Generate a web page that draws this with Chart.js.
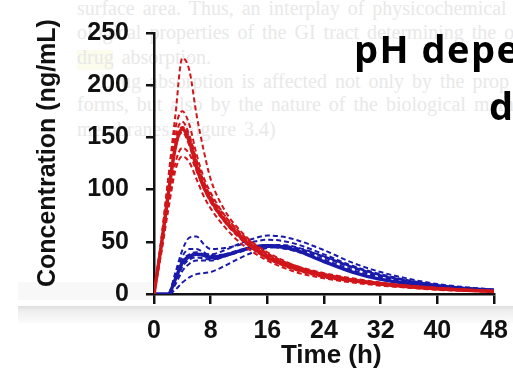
<!DOCTYPE html>
<html>
<head>
<meta charset="utf-8">
<script src="https://cdn.jsdelivr.net/npm/chart.js@4/dist/chart.umd.min.js"></script>
<style>
  html, body { margin: 0; padding: 0; background: #fff; }
  #wrap { position: relative; width: 513px; height: 378px; overflow: hidden; background: #fff; }
  .bg { position: absolute; left: 77px; font-family: "Liberation Serif", serif; font-size: 20px; color: #e9e9e9; white-space: nowrap; word-spacing: 3px; }
  .band { position: absolute; }
  .head { position: absolute; font-family: "Open Sans", sans-serif; font-weight: bold; font-size: 38px; letter-spacing: 1.5px; color: #000; white-space: nowrap; }
  canvas { position: absolute; left: 0; top: 0; }
</style>
</head>
<body>
<div id="wrap">
  <div class="band" style="left:18px;top:282px;width:135px;height:18px;background:#f8f8f8"></div>
  <div class="band" style="left:18px;top:306px;right:0;height:17px;background:linear-gradient(#dedede,#efefef 30%,#fbfbfb)"></div>
  <div class="band" style="left:77px;top:50px;width:36px;height:20px;background:#fcfcec"></div>
  <div class="bg" style="top:-3px">surface area. Thus, an interplay of physicochemical p</div>
  <div class="bg" style="top:21px">ological properties of the GI tract determining the outc</div>
  <div class="bg" style="top:46px">drug absorption.</div>
  <div class="bg" style="top:70px;left:100px">Drug absorption is affected not only by the prop</div>
  <div class="bg" style="top:93px">forms, but also by the nature of the biological memb</div>
  <div class="bg" style="top:118px">membranes (Figure 3.4)</div>
  <canvas id="chart" width="513" height="378"></canvas>
  <div class="head" style="left:354px;top:22px">pH dependent</div>
  <div class="head" style="left:489px;top:79px">drug</div>
</div>
<script>
// time points (h)
const hours = [0,1,2,3,4,5,6,7,8,10,12,14,16,18,20,24,28,32,36,40,44,48]

// red profiles (ng/mL)
const redMean = [0,45,95,140,158,146,122,103,90,70,56,44,35,29,24,17.5,13,9.5,7,5,3.5,2.5]
const red1 = [0,50,110,170,226,214,172,138,110,80,62,49,40,33,27,19,14,10,7,5,3.5,2.5]
const red2 = [0,50,108,158,175,162,134,112,97,75,59,47,38,31,26,19,14,10.5,7.5,5.5,4,2.8]
const red3 = [0,48,100,150,165,152,128,108,93,72,57,45,36,29,24,17,12.5,9.5,7,5,3.5,2.5]
const red4 = [0,45,95,140,155,142,120,102,88,69,54,43,34,28,23,16,12,9,6.5,4.5,3.2,2.2]
const red5 = [0,40,85,125,140,134,118,102,90,71,57,46,37,31,26,19,14,10.5,8,6,4.2,3]
const red6 = [0,38,80,118,132,126,110,94,82,64,50,40,32,26,21,15,11,8,6,4,3,2]
const red7 = [0,46,98,145,160,150,128,108,94,75,60,48,39,32,27,20,15,11,8,6,4.3,3]

// blue profiles (ng/mL)
const blueMean = [0,0,0,14,30,36,38,37,35,37,41,45,46,45,42,31,21,14,10,7,5,3.5]
const blue1 = [0,0,0,20,42,54,55,48,43,44,47,50,52,51,48,38,27,19,13,8.5,5.5,3.5]
const blue2 = [0,0,0,12,26,34,38,38,38,42,48,53,56,55,52,42,30,21,14.5,9.5,6.5,4.2]
const blue3 = [0,0,0,4,11,16,19,20,21,27,34,40,44,45,44,36,26,18,12.5,8.5,5.5,3.8]
const blue4 = [0,0,0,16,32,38,40,38,36,38,42,45,47,46,43,33,23,16,11,7.5,5,3.2]
const blue5 = [0,0,0,9,22,29,32,32,32,36,40,44,46,46,44,35,25,17,12,8,5.5,3.8]
const blue6 = [0,0,0,18,36,43,43,40,37,38,41,44,45,44,41,31,21,14.5,10,6.8,4.6,3]
const blue7 = [0,0,0,13,27,33,35,34,33,36,41,45,47,47,45,36,26,18,12.5,8.5,5.8,3.8]

const xTicks = [0,8,16,24,32,40,48]
const yTicks = [0,50,100,150,200,250]

const red = 'rgb(208,22,26)'
const blue = 'rgb(26,26,170)'

function pts(arr){ return hours.map((h,i)=>({x:h,y:arr[i]})) }
function dashed(arr,color){
  return {data:pts(arr),borderColor:color,borderWidth:2,borderDash:[5,3],pointRadius:0,cubicInterpolationMode:'monotone',fill:false}
}
function solid(arr,color){
  return {data:pts(arr),borderColor:color,borderWidth:3.5,pointRadius:0,cubicInterpolationMode:'monotone',fill:false}
}

const chart = document.querySelector('#chart').getContext('2d')

new Chart(chart,{
  type:'line',
  data:{
    datasets:[
      solid(redMean,red),
      dashed(red1,red),dashed(red2,red),dashed(red3,red),dashed(red4,red),
      dashed(red5,red),dashed(red6,red),dashed(red7,red),
      solid(blueMean,blue),
      dashed(blue1,blue),dashed(blue2,blue),dashed(blue3,blue),dashed(blue4,blue),
      dashed(blue5,blue),dashed(blue6,blue),dashed(blue7,blue)
    ]
  },
  options:{
    responsive:false,
    animation:false,
    layout:{padding:{top:33,right:19,left:0,bottom:0}},
    plugins:{legend:{display:false},tooltip:{enabled:false}},
    scales:{
      x:{
        type:'linear',min:0,max:48,
        afterFit:(s)=>{ s.height = 84; s.paddingRight = 0; s.paddingLeft = 0 },
        afterBuildTicks:(s)=>{ s.ticks = xTicks.map(v=>({value:v})) },
        grid:{drawOnChartArea:false,tickLength:10,color:'#111',lineWidth:2.5},
        border:{display:true,color:'#111',width:2.5},
        ticks:{padding:12,color:'#111',font:{family:'Liberation Sans',weight:'bold',size:25},maxRotation:0},
        title:{display:true,text:'\u00a0\u00a0Time (h)',color:'#111',font:{family:'Liberation Sans',weight:'bold',size:26},padding:{top:0,bottom:7}}
      },
      y:{
        min:0,max:250,
        afterFit:(s)=>{ s.width = 154 },
        afterBuildTicks:(s)=>{ s.ticks = yTicks.map(v=>({value:v})) },
        grid:{drawOnChartArea:false,tickLength:8,color:'#111',lineWidth:2.5},
        border:{display:true,color:'#111',width:2.5},
        ticks:{padding:17,color:'#111',font:{family:'Liberation Sans',weight:'bold',size:25}},
        title:{display:true,text:'\u00a0\u00a0\u00a0Concentration (ng/mL)',color:'#111',font:{family:'Liberation Sans',weight:'bold',size:25},padding:{top:33,bottom:0}}
      }
    }
  }
})
</script>
</body>
</html>
